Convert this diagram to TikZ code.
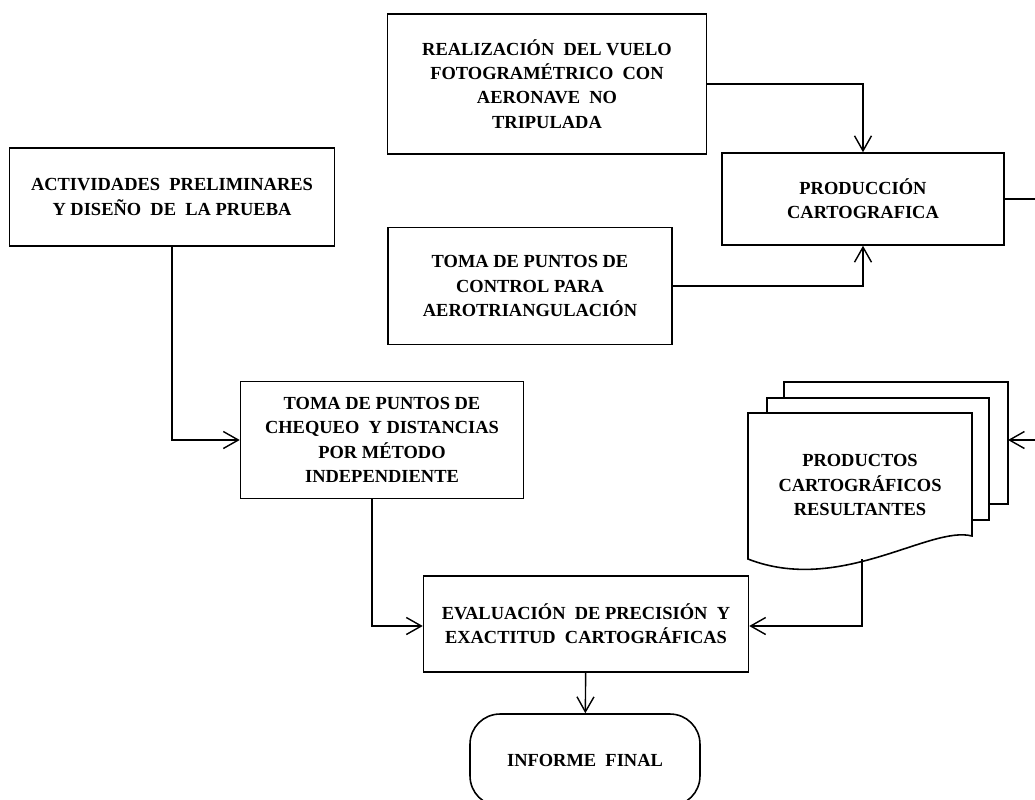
\documentclass[tikz,border=0pt]{standalone}
\usepackage{fontspec}
\setmainfont{Liberation Serif}
\usetikzlibrary{arrows.meta, positioning, calc}

\begin{document}
\begin{tikzpicture}[
    x=0.02cm, y=-0.02cm,
    box/.style={draw, line width=0.9pt, align=center, fill=white, font=\fontsize{10.5}{13.8}\selectfont\bfseries},
    term/.style={box, rounded corners=0.6cm},
    sheet/.style={draw, line width=0.9pt, fill=white},
    arr/.style={line width=0.8pt, -{Straight Barb[length=3mm, width=3.4mm]}},
]
\useasboundingbox (0,0) rectangle (1035,799);
\clip (0,0) rectangle (1035,799);

% upper branch
\node[box, minimum width=6.38cm, minimum height=2.8cm] (vuelo) at (547,84)
    {REALIZACIÓN \ DEL VUELO\\FOTOGRAMÉTRICO \ CON\\AERONAVE \ NO\\TRIPULADA};
\node[box, minimum width=5.64cm, minimum height=1.84cm] (prod) at (863,199)
    {PRODUCCIÓN\\CARTOGRAFICA};
\node[box, minimum width=5.68cm, minimum height=2.34cm] (control) at (530,286)
    {TOMA DE PUNTOS DE\\CONTROL PARA\\AEROTRIANGULACIÓN};

% left branch
\node[box, minimum width=6.5cm, minimum height=1.96cm] (activ) at (172,197)
    {ACTIVIDADES \ PRELIMINARES\\Y DISEÑO \ DE \ LA PRUEBA};
\node[box, minimum width=5.66cm, minimum height=2.34cm] (cheq) at (382,440)
    {TOMA DE PUNTOS DE\\CHEQUEO \ Y DISTANCIAS\\POR MÉTODO\\INDEPENDIENTE};

% stacked documents
\draw[sheet] (784,398) -- (784,382) -- (1008,382) -- (1008,504) -- (989,504);
\draw[sheet] (767,413) -- (767,398) -- (989,398) -- (989,520) -- (972,520);
\draw[sheet] (748,413) -- (972,413) -- (972,536)
    .. controls (930,525) and (840,595) .. (748,559) -- cycle;
\node[align=center, font=\fontsize{10.5}{13.8}\selectfont\bfseries] (docs) at (860,485)
    {PRODUCTOS\\CARTOGRÁFICOS\\RESULTANTES};
\coordinate (docback) at (1008,440);
\coordinate (docbot) at (862,559);
\coordinate (outr) at (1065,199);

% evaluation and end
\node[box, minimum width=6.5cm, minimum height=1.92cm] (eval) at (586,624)
    {EVALUACIÓN \ DE PRECISIÓN \ Y\\EXACTITUD \ CARTOGRÁFICAS};
\node[term, minimum width=4.6cm, minimum height=1.84cm] (final) at (585,760)
    {INFORME \ FINAL};

% connectors
\draw[arr] (vuelo.east) -| (prod.north);
\draw[arr] (control.east) -| (prod.south);
\draw[arr] (prod.east) -- (outr) |- (docback);
\draw[arr] (activ.south) |- (cheq.west);
\draw[arr] ($(cheq.south)+(-10,0)$) |- ($(eval.west)+(0,2)$);
\draw[arr] (docbot) |- ($(eval.east)+(0,2)$);
\draw[arr] (eval) -- (final);

\end{tikzpicture}
\end{document}
